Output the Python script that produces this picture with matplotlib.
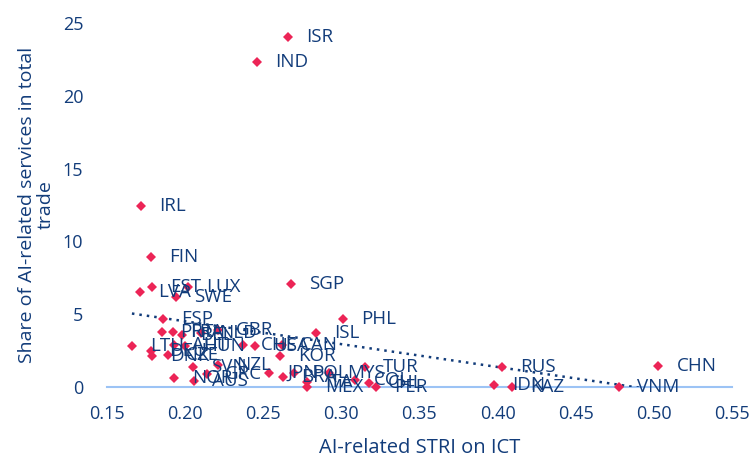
import numpy as np
import matplotlib
matplotlib.use("Agg")
import matplotlib.pyplot as plt

countries = ["ISR", "IND", "IRL", "FIN", "EST", "LUX", "LVA", "SWE", "SGP", "ESP",
             "PHL", "ISL", "PRT", "FRA", "GBR", "BEL", "NLD", "LTU", "AUT", "HUN",
             "DEU", "DNK", "CZE", "CHE", "USA", "CAN", "KOR", "SVN", "NZL", "GRC",
             "NOR", "AUS", "JPN", "BRA", "POL", "ITA", "MYS", "TUR", "COL", "CHL",
             "MEX", "PER", "RUS", "IDN", "KAZ", "VNM", "CHN"]
stri = [0.266, 0.246, 0.172, 0.178, 0.179, 0.202, 0.171, 0.194, 0.268, 0.186,
        0.301, 0.284, 0.185, 0.192, 0.221, 0.198, 0.210, 0.166, 0.193, 0.200,
        0.178, 0.179, 0.189, 0.237, 0.245, 0.262, 0.261, 0.205, 0.221, 0.214,
        0.193, 0.206, 0.254, 0.263, 0.270, 0.278, 0.292, 0.315, 0.309, 0.318,
        0.278, 0.322, 0.403, 0.398, 0.409, 0.478, 0.503]
share = [24.0, 22.3, 12.4, 8.9, 6.9, 6.9, 6.5, 6.2, 7.1, 4.7,
         4.7, 3.7, 3.8, 3.8, 3.9, 3.6, 3.7, 2.8, 2.9, 2.8,
         2.5, 2.1, 2.2, 2.9, 2.8, 2.9, 2.1, 1.4, 1.5, 0.9,
         0.6, 0.4, 1.0, 0.7, 1.0, 0.35, 1.0, 1.4, 0.5, 0.3,
         0.0, 0.0, 1.4, 0.15, 0.0, 0.0, 1.45]

navy = "#123c7a"
pink = "#ec2456"
lightblue = "#9cc3f5"

plt.rcParams['font.family'] = ['Open Sans', 'DejaVu Sans']

fig = plt.figure(figsize=(7.53, 4.57), dpi=100)
ax = fig.add_axes([0.142, 0.153, 0.830, 0.797])

x = np.array(stri)
y = np.array(share)

# linear trend line (dotted)
coef = np.polyfit(x, y, 1)
xt = np.array([x.min(), x.max()])
ax.plot(xt, np.polyval(coef, xt), linestyle=(0, (1, 2.0)), color=navy, lw=1.8, zorder=2)

ax.plot(x, y, linestyle="none", marker="D", markersize=5.5, color=pink,
        markeredgewidth=0, zorder=3, clip_on=False)

for name, xi, yi in zip(countries, stri, share):
    ax.annotate(name, (xi, yi), xytext=(13, 0), textcoords="offset points",
                ha="left", va="center", fontsize=13.5, color=navy, zorder=4,
                annotation_clip=False)

ax.set_xlim(0.15, 0.55)
ax.set_ylim(0, 25)
ax.set_xticks(np.arange(0.15, 0.551, 0.05))
ax.set_xticklabels([f"{v:.2f}" for v in np.arange(0.15, 0.551, 0.05)])
ax.set_yticks([0, 5, 10, 15, 20, 25])

for s in ["top", "right", "left"]:
    ax.spines[s].set_visible(False)
ax.spines["bottom"].set_color(lightblue)
ax.spines["bottom"].set_linewidth(1.5)
ax.spines["bottom"].set_zorder(1)

ax.tick_params(axis="both", length=0, labelsize=13, labelcolor=navy)
ax.tick_params(axis="x", pad=13)
ax.tick_params(axis="y", pad=17)

ax.set_xlabel("AI-related STRI on ICT", fontsize=14.5, color=navy, labelpad=11)
ax.set_ylabel("Share of AI-related services in total\ntrade", fontsize=14,
              color=navy, labelpad=6, linespacing=1.05)

fig.savefig("out.png", dpi=100)
